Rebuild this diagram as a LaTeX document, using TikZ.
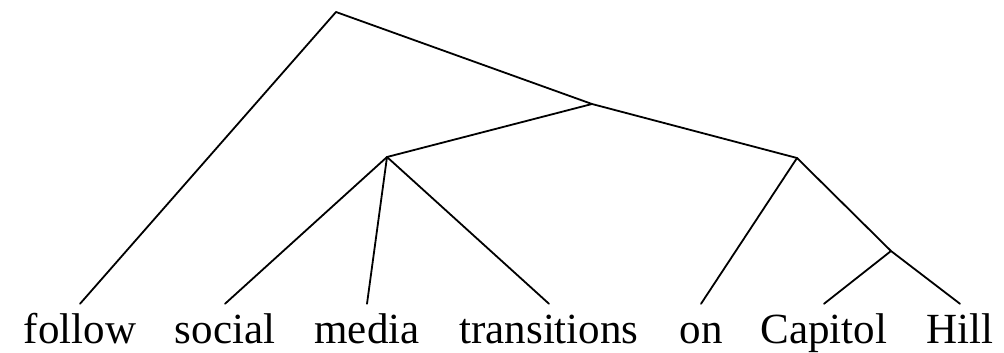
\documentclass[tikz,border=0pt]{standalone}
\usepackage{fontspec}
\setmainfont{Liberation Serif}
\begin{document}
\begin{tikzpicture}[x=1pt,y=-1pt,
  word/.style={anchor=base,inner xsep=0pt,inner ysep=8pt,text height=31pt,text depth=0pt,font=\fontsize{43}{50}\selectfont},
  edge/.style={line width=1.8pt,line cap=round,line join=round}]
\useasboundingbox (0,0) rectangle (1004,353);
\coordinate (root) at (336,12);
\coordinate (n1) at (592,104);
\coordinate (n2) at (387,157);
\coordinate (n3) at (797,158);
\coordinate (n4) at (891,251);
\node[word] (w1) at (80,343) {follow};
\node[word] (w2) at (225,343) {social};
\node[word] (w3) at (367,343) {media};
\node[word] (w4) at (549,343) {transitions};
\node[word] (w5) at (701,343) {on};
\node[word] (w6) at (824,343) {Capitol};
\node[word] (w7) at (960,343) {Hill};
\draw[edge] (w1.north) -- (root) -- (n1);
\draw[edge] (n2) -- (n1) -- (n3);
\draw[edge] (n2) -- (w2.north);
\draw[edge] (n2) -- (w3.north);
\draw[edge] (n2) -- (w4.north);
\draw[edge] (w5.north) -- (n3) -- (n4);
\draw[edge] (w6.north) -- (n4) -- (w7.north);
\end{tikzpicture}
\end{document}
